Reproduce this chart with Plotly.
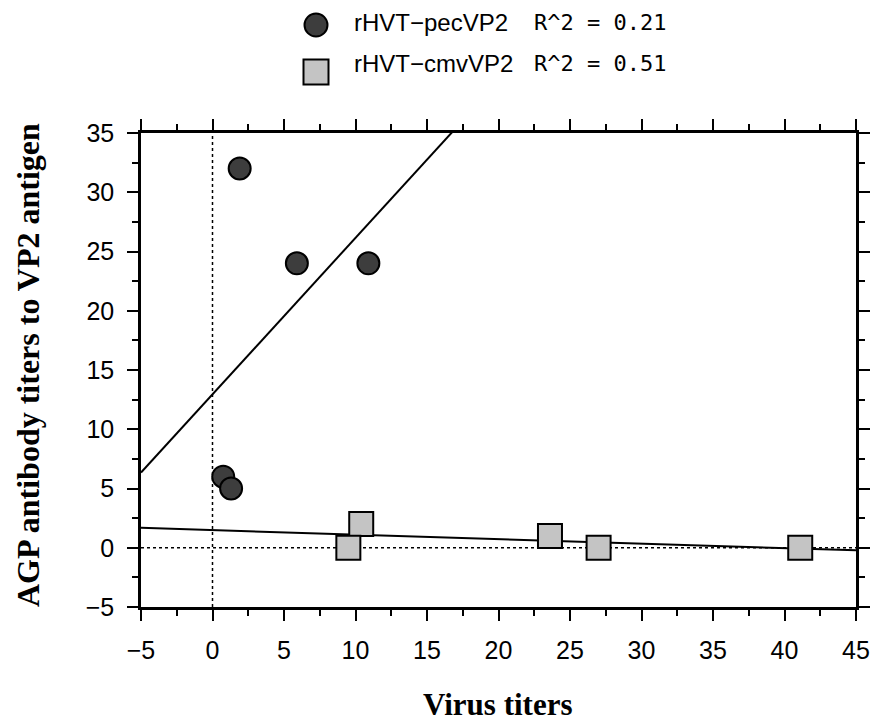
import plotly.graph_objects as go
import numpy as np

# --- data ---
pec_x = [1.9, 5.9, 10.9, 0.75, 1.3]
pec_y = [32, 24, 24, 6, 5]
cmv_x = [10.4, 9.5, 23.6, 27.0, 41.1]
cmv_y = [2, 0, 1, 0, 0]
# regression lines (intercept, slope) as drawn
pec_fit = (12.95, 1.32)
cmv_fit = (1.49, -0.038)
legend_names = ["rHVT\u2212pecVP2", "rHVT\u2212cmvVP2"]
legend_r2 = ["R^2 = 0.21", "R^2 = 0.51"]
x_range = [-5, 45]
y_range = [-5, 35]

W, H = 874, 723
PL, PT, PR, PB = 141, 133, 856, 607          # plot area in window pixels
L, T, R, B = PL, PT, W - PR, H - PB
PW, PH = PR - PL, PB - PT


def px(x):
    return (x - PL) / PW


def py(y):
    return (PB - y) / PH


fig = go.Figure()

xl = np.array(x_range, dtype=float)
# reference lines at 0
fig.add_trace(go.Scatter(x=[0, 0], y=y_range, mode="lines",
                         line=dict(color="black", width=1.5, dash="dot"),
                         showlegend=False, hoverinfo="skip"))
fig.add_trace(go.Scatter(x=x_range, y=[0, 0], mode="lines",
                         line=dict(color="black", width=1.5, dash="dot"),
                         showlegend=False, hoverinfo="skip"))
# fit lines
fig.add_trace(go.Scatter(x=xl, y=pec_fit[0] + pec_fit[1] * xl, mode="lines",
                         line=dict(color="black", width=2), showlegend=False))
fig.add_trace(go.Scatter(x=xl, y=cmv_fit[0] + cmv_fit[1] * xl, mode="lines",
                         line=dict(color="black", width=2), showlegend=False))
# points
fig.add_trace(go.Scatter(x=pec_x, y=pec_y, mode="markers", name=legend_names[0],
                         marker=dict(symbol="circle", size=22, color="#3d3d3d",
                                     line=dict(color="black", width=2)),
                         showlegend=False))
fig.add_trace(go.Scatter(x=cmv_x, y=cmv_y, mode="markers", name=legend_names[1],
                         marker=dict(symbol="square", size=24, color="#c4c4c4",
                                     line=dict(color="black", width=2)),
                         showlegend=False))

axis_common = dict(
    showgrid=False, zeroline=False, showline=True, linecolor="black", linewidth=2.5,
    mirror="ticks", ticks="outside", ticklen=11, tickwidth=2, tickcolor="black",
    tickfont=dict(family="Liberation Sans, Arial, sans-serif", size=25, color="black"),
    dtick=5, ticklabelstandoff=8, automargin=False,
    minor=dict(dtick=2.5, ticks="outside", ticklen=6, tickwidth=2, tickcolor="black"),
)
fig.update_xaxes(range=x_range, tick0=-5, **axis_common)
fig.update_yaxes(range=y_range, tick0=-5, **axis_common)

# legend drawn manually
shapes = []
cx, cy, r = 316, 25, 11.5
shapes.append(dict(type="circle", xref="paper", yref="paper",
                   x0=px(cx - r), x1=px(cx + r), y0=py(cy + r), y1=py(cy - r),
                   fillcolor="#3d3d3d", line=dict(color="black", width=2)))
sx, sy, s = 316, 72, 12.5
shapes.append(dict(type="rect", xref="paper", yref="paper",
                   x0=px(sx - s), x1=px(sx + s), y0=py(sy + s), y1=py(sy - s),
                   fillcolor="#c4c4c4", line=dict(color="black", width=2)))

annotations = []
lf = dict(family="Liberation Sans, Arial, sans-serif", size=24, color="black")
mf = dict(family="DejaVu Sans Mono, monospace", size=22, color="black")
for i, ty in enumerate([22, 64]):
    annotations.append(dict(text=legend_names[i], x=px(352), y=py(ty), xref="paper", yref="paper",
                            xanchor="left", yanchor="middle", showarrow=False, font=lf))
    annotations.append(dict(text=legend_r2[i], x=px(532), y=py(ty), xref="paper", yref="paper",
                            xanchor="left", yanchor="middle", showarrow=False, font=mf))

tf = dict(family="Liberation Serif, Times New Roman, serif", size=31, color="black")
tfy = dict(family="Liberation Serif, Times New Roman, serif", size=32, color="black")
annotations.append(dict(text="<b>Virus titers</b>", x=px(498), y=py(704), xref="paper", yref="paper",
                        xanchor="center", yanchor="middle", showarrow=False, font=tf))
annotations.append(dict(text="<b>AGP antibody titers to VP2 antigen</b>", x=px(28), y=py(365),
                        xref="paper", yref="paper", xanchor="center", yanchor="middle",
                        textangle=-90, showarrow=False, font=tfy))

fig.update_layout(width=W, height=H, margin=dict(l=L, r=R, t=T, b=B, autoexpand=False),
                  paper_bgcolor="white", plot_bgcolor="white",
                  shapes=shapes, annotations=annotations, showlegend=False)

fig.write_html("out.html", config={"displayModeBar": False},
               post_script="document.body.style.margin='0';"
                           "document.documentElement.style.overflow='hidden';")
